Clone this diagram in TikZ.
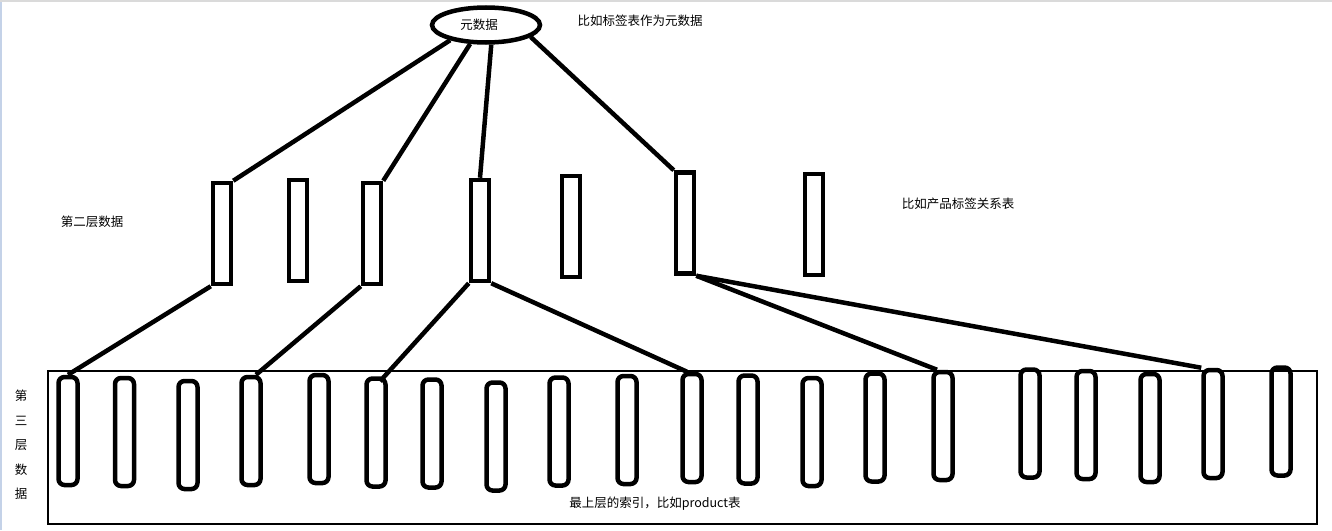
\documentclass[tikz,border=0pt]{standalone}
\usepackage{fontspec}
\setmainfont{Noto Sans CJK SC}
\usetikzlibrary{shapes.geometric}

\definecolor{framegray}{RGB}{218,218,218}
\definecolor{frameblue}{RGB}{196,210,232}

\tikzset{
  tbl/.style={draw, line width=4.5pt, minimum width=18pt, minimum height=101pt, inner sep=0pt},
  slot/.style={draw, line width=4.5pt, rounded corners=6pt, minimum width=19pt, minimum height=108pt, inner sep=0pt},
  link/.style={line width=4.5pt},
  note/.style={inner sep=0pt, font=\fontsize{12.5}{15}\selectfont}
}

\begin{document}
\begin{tikzpicture}[x=1pt, y=-1pt]
    \useasboundingbox (0,0) rectangle (1332,530);
    % window edges
    \draw[framegray, line width=2pt] (0,1) -- (1332,1);
    \draw[frameblue, line width=2pt] (1,2) -- (1,530);

    % metadata
    \node[ellipse, draw, line width=4.5pt, minimum width=108pt, minimum height=35pt, inner sep=0pt] (meta) at (486,25) {};
    \node[note] (metatxt) at (479,25) {元数据};
    \node[note] (metanote) at (640,21) {比如标签表作为元数据};

    % second layer
    \foreach \cx/\cy [count=\i] in {222/233.5, 298/230.5, 372/233.5, 480/230.5, 571/226.5, 685/223, 814/224.5}
        \node[tbl] (a\i) at (\cx,\cy) {};
    \node[note] (midtxt) at (92,222) {第二层数据};
    \node[note] (midnote) at (958,204) {比如产品标签关系表};

    % third layer
    \node[draw, line width=1.3pt, minimum width=1269pt, minimum height=153pt, inner sep=0pt] (top) at (682.5,447.5) {};
    \foreach \cx/\cy [count=\i] in {68/431, 124.5/432, 188/435, 251/431, 319/429, 376/432.5, 432/433.5, 496/436.5, 559/431.5, 627/430,
                                    692/428, 748/429.5, 812/432, 875/427.5, 943/426, 1030/423.5, 1086/425, 1150/428, 1213/424, 1281/421.5}
        \node[slot] (b\i) at (\cx,\cy) {};
    \node[note, align=center, font=\fontsize{12.5}{24.5}\selectfont] (toptxt) at (21,445) {第\\三\\层\\数\\据};
    \node[note] (topnote) at (655,504) {最上层的索引，比如product表};

    % links
    \draw[link] (meta.203) -- (a1.north east);
    \draw[link] (meta.230) -- (a3.north east);
    \draw[link] (meta.285) -- (a4.north);
    \draw[link] (meta.345) -- (a6.north west);
    \draw[link] (a1.south west) -- (b1.north);
    \draw[link] (a3.south west) -- ([xshift=5pt]b4.north);
    \draw[link] (a4.south west) -- ([xshift=4pt, yshift=-5pt]b6.north);
    \draw[link] (a4.south east) -- ([xshift=-5pt]b11.north);
    \draw[link] (a6.south east) -- ([xshift=-6pt]b15.north);
    \draw[link] (a6.south east) -- (b19.north west);
\end{tikzpicture}
\end{document}
